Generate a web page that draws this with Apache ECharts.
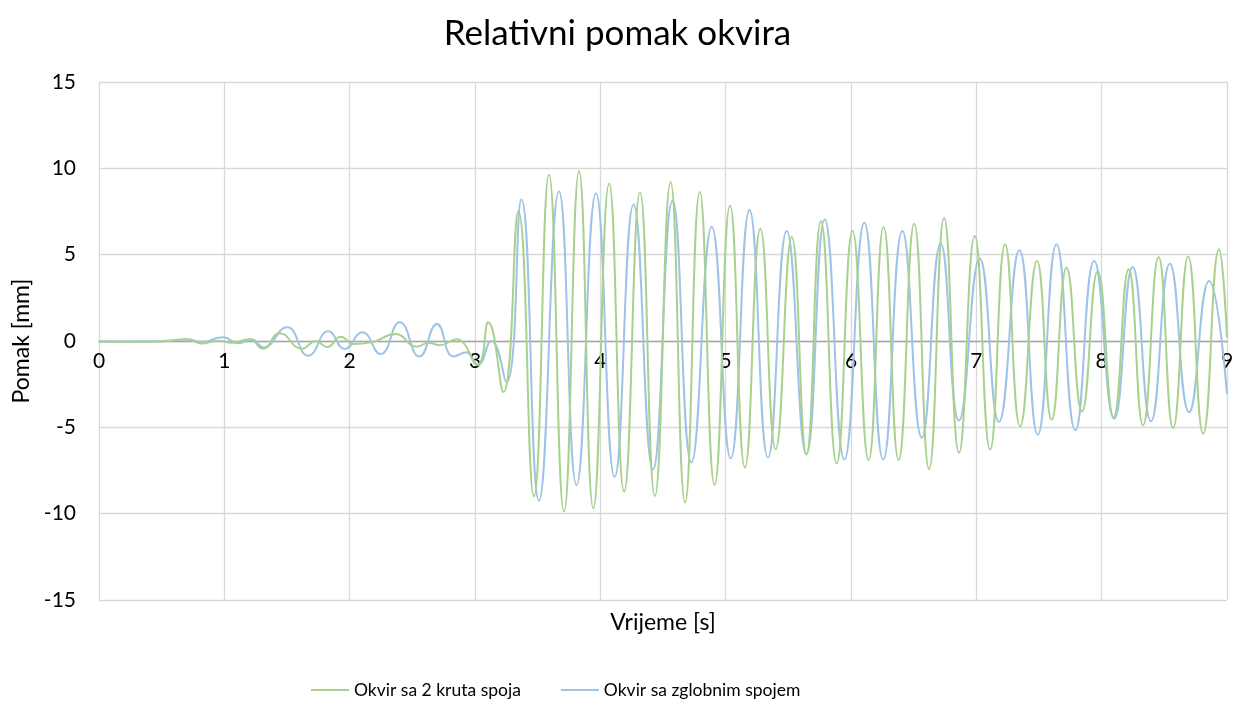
<!DOCTYPE html>
<html><head><meta charset="utf-8">
<script src="https://cdn.jsdelivr.net/npm/echarts@6/dist/echarts.min.js"></script>
<style>html,body{margin:0;padding:0;background:#fff}#c{width:1235px;height:706px}</style>
</head><body><div id="c"></div>
<script>
const titleText = "Relativni pomak okvira";
const xName = "Vrijeme [s]";
const yName = "Pomak [mm]";
const seriesNames = ["Okvir sa 2 kruta spoja", "Okvir sa zglobnim spojem"];

const greenT = [0, 0.3, 0.5, 0.71, 0.82, 0.95, 1.06, 1.2, 1.31, 1.44, 1.62, 1.73, 1.82, 1.93, 2.03, 2.17, 2.365, 2.537, 2.63, 2.72, 2.85, 3.02, 3.106, 3.226, 3.346, 3.47, 3.59, 3.71, 3.83, 3.944, 4.07, 4.19, 4.316, 4.435, 4.56, 4.676, 4.793, 4.912, 5.035, 5.154, 5.277, 5.399, 5.527, 5.644, 5.76, 5.886, 6.012, 6.14, 6.26, 6.38, 6.504, 6.623, 6.743, 6.862, 6.987, 7.11, 7.23, 7.35, 7.484, 7.601, 7.72, 7.843, 7.968, 8.095, 8.215, 8.33, 8.454, 8.57, 8.69, 8.81, 8.936, 9.0];
const greenY = [0, -0.05, 0, 0.08, -0.15, 0.02, -0.1, 0.1, -0.45, 0.45, -0.45, 0.0, -0.35, 0.25, -0.17, -0.08, 0.4, -0.33, -0.1, -0.25, 0.1, -1.35, 1.08, -2.96, 7.52, -9.0, 9.63, -9.88, 9.83, -9.69, 9.12, -8.73, 8.62, -8.98, 9.21, -9.35, 8.63, -8.35, 7.85, -7.33, 6.5, -6.27, 6.02, -6.56, 6.94, -7.1, 6.37, -6.9, 6.6, -6.9, 6.79, -7.42, 7.13, -6.48, 6.08, -6.29, 5.6, -4.94, 4.63, -4.56, 4.25, -4.08, 4.02, -4.4, 4.15, -4.88, 4.87, -5.04, 4.9, -5.37, 5.31, 0.2];

const blueT = [0, 0.5, 0.7, 0.82, 0.99, 1.11, 1.22, 1.31, 1.5, 1.67, 1.83, 1.96, 2.1, 2.246, 2.4, 2.556, 2.696, 2.83, 2.93, 3.02, 3.13, 3.25, 3.37, 3.51, 3.67, 3.81, 3.965, 4.114, 4.265, 4.42, 4.576, 4.727, 4.889, 5.04, 5.19, 5.338, 5.487, 5.644, 5.79, 5.947, 6.106, 6.257, 6.41, 6.565, 6.716, 6.862, 7.027, 7.18, 7.343, 7.49, 7.64, 7.79, 7.94, 8.1, 8.247, 8.393, 8.544, 8.698, 8.857, 9.0];
const blueY = [-0.05, -0.03, 0.1, -0.05, 0.21, -0.13, 0.08, -0.37, 0.79, -0.85, 0.56, -0.46, 0.5, -0.75, 1.08, -0.9, 0.98, -0.9, -0.65, -1.4, 0, -2.4, 8.2, -9.25, 8.67, -8.35, 8.55, -7.87, 7.9, -7.44, 8.13, -7.04, 6.6, -6.8, 7.58, -6.75, 6.37, -6.56, 7.04, -6.87, 6.85, -6.87, 6.37, -5.6, 5.65, -4.6, 4.77, -4.69, 5.25, -5.42, 5.6, -5.17, 4.63, -4.5, 4.29, -4.65, 4.48, -4.12, 3.48, -3.06];

const pair = (t, y) => t.map((v, i) => [v, y[i]]);
const FONT = "Lato";

const chart = echarts.init(document.getElementById('c'), null, {renderer: 'canvas'});
chart.setOption({
  animation: false,
  backgroundColor: '#fff',
  title: {text: titleText, left: 'center', top: 11,
    textStyle: {fontFamily: FONT, fontSize: 35, fontWeight: 'normal', color: '#000'}},
  grid: {left: 99, right: 8, top: 82, bottom: 106, containLabel: false, outerBoundsMode: 'none'},
  legend: {left: 306, top: 676, itemWidth: 38, itemHeight: 2, itemGap: 40,
    icon: 'rect',
    textStyle: {fontFamily: FONT, fontSize: 17.5, color: '#000'},
    data: seriesNames},
  xAxis: {type: 'value', min: 0, max: 9, interval: 1, position: 'bottom', offset: -259,
    name: xName, nameLocation: 'middle', nameGap: 270,
    nameTextStyle: {fontFamily: FONT, fontSize: 23, color: '#000', verticalAlign: 'top'},
    axisLine: {onZero: false, lineStyle: {color: '#a6a6a6', width: 1.3}},
    axisTick: {show: false},
    axisLabel: {fontFamily: FONT, fontSize: 21, color: '#000', margin: 10},
    splitLine: {show: true, lineStyle: {color: '#d9d9d9', width: 1.3}}},
  yAxis: {type: 'value', min: -15, max: 15, interval: 5,
    name: yName, nameLocation: 'middle', nameGap: 64, nameRotate: 90,
    nameTextStyle: {fontFamily: FONT, fontSize: 23, color: '#000'},
    axisLine: {show: false}, axisTick: {show: false},
    axisLabel: {fontFamily: FONT, fontSize: 21, color: '#000', margin: 23},
    splitLine: {show: true, lineStyle: {color: '#d9d9d9', width: 1.3}}},
  series: [
    {name: seriesNames[0], type: 'line', data: pair(greenT, greenY), smooth: 0.5,
      symbol: 'none', lineStyle: {color: '#a9d18e', width: 2}, itemStyle: {color: '#a9d18e'}, z: 3},
    {name: seriesNames[1], type: 'line', data: pair(blueT, blueY), smooth: 0.5,
      symbol: 'none', lineStyle: {color: '#9dc3e6', width: 2}, itemStyle: {color: '#9dc3e6'}, z: 2}
  ]
});
</script></body></html>
